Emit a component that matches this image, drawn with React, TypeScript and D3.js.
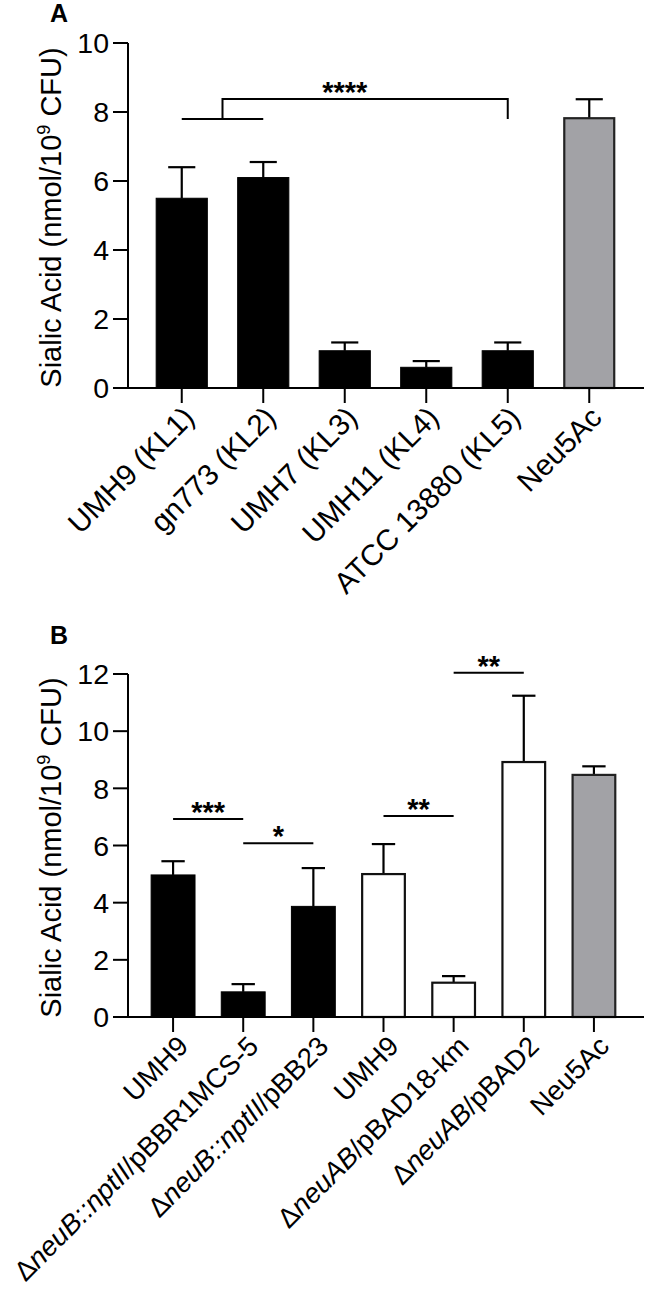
import * as d3 from "d3";

// Panel A: capsule types
const strainsA = ["UMH9 (KL1)", "gn773 (KL2)", "UMH7 (KL3)", "UMH11 (KL4)", "ATCC 13880 (KL5)", "Neu5Ac"];
const meansA = [5.5, 6.1, 1.08, 0.6, 1.08, 7.82];
const sdA = [0.9, 0.45, 0.24, 0.18, 0.24, 0.55];
const kindA = ["strain", "strain", "strain", "strain", "strain", "standard"];
const ticksA = [0, 2, 4, 6, 8, 10];

// Panel B: mutants and complements (text between _ is italic)
const strainsB = [
  "UMH9",
  "Δ_neuB::nptII_/pBBR1MCS-5",
  "Δ_neuB::nptII_/pBB23",
  "UMH9",
  "Δ_neuAB_/pBAD18-km",
  "Δ_neuAB_/pBAD2",
  "Neu5Ac",
];
const meansB = [4.97, 0.88, 3.87, 5.0, 1.2, 8.92, 8.47];
const sdB = [0.48, 0.27, 1.34, 1.05, 0.23, 2.32, 0.3];
const kindB = ["strain", "strain", "strain", "open", "open", "open", "standard"];
const ticksB = [0, 2, 4, 6, 8, 10, 12];
const sigB = [
  { from: 0, to: 1, y: 6.93, label: "***" },
  { from: 1, to: 2, y: 6.08, label: "*" },
  { from: 3, to: 4, y: 7.03, label: "**" },
  { from: 4, to: 5, y: 12.04, label: "**" },
];

const FONT = "'Liberation Sans', Arial, Helvetica, sans-serif";
const fills: Record<string, string> = { strain: "#000", open: "#fff", standard: "#a2a2a6" };
const strokes: Record<string, string> = { strain: "#000", open: "#111", standard: "#222" };

function parseLabel(s: string) {
  return s.split("_").map((t, i) => ({ t, italic: i % 2 === 1 }));
}

function Panel({
  letter, letterY, top, bottom, maxY, ticks, cats, means, sds, kinds, xStart, xEnd, labelSize, labelDx, children,
}: any) {
  const y = d3.scaleLinear().domain([0, maxY]).range([bottom, top]);
  const x = d3.scaleBand<number>().domain(d3.range(cats.length)).range([xStart, xEnd])
    .paddingInner(0.36).paddingOuter(0.18);
  const yAxisX = 128;
  const cx = (i: number) => (x(i) as number) + x.bandwidth() / 2;
  const cap = x.bandwidth() * 0.26;
  return (
    <g>
      <text x={50} y={letterY} fontSize={25} fontWeight="bold" fontFamily={FONT}>{letter}</text>
      <text transform={`translate(61,${(top + bottom) / 2 + 2}) rotate(-90)`} textAnchor="middle"
        fontSize={29} fontFamily={FONT}>
        Sialic Acid (nmol/10<tspan fontSize={18} dy={-11}>9</tspan><tspan dy={11}> CFU)</tspan>
      </text>
      {/* bars + error bars */}
      {means.map((m: number, i: number) => {
        const k = kinds[i];
        const sw = k === "strain" ? 1 : 2.2;
        return (
          <g key={i}>
            <line x1={cx(i)} x2={cx(i)} y1={y(m)} y2={y(m + sds[i])} stroke="#000" strokeWidth={2.2} />
            <line x1={cx(i) - cap} x2={cx(i) + cap} y1={y(m + sds[i])} y2={y(m + sds[i])} stroke="#000" strokeWidth={2.2} />
            <rect x={(x(i) as number) + sw / 2} y={y(m)} width={x.bandwidth() - sw} height={bottom - y(m)}
              fill={fills[k]} stroke={strokes[k]} strokeWidth={sw} />
          </g>
        );
      })}
      {/* y axis */}
      <line x1={yAxisX} x2={yAxisX} y1={y(maxY)} y2={bottom} stroke="#000" strokeWidth={2} />
      {ticks.map((t: number) => (
        <g key={t}>
          <line x1={113} x2={yAxisX} y1={y(t)} y2={y(t)} stroke="#000" strokeWidth={2} />
          <text x={109} y={y(t)} dy="0.36em" textAnchor="end" fontSize={28.5} fontFamily={FONT}>{t}</text>
        </g>
      ))}
      {/* x axis */}
      <line x1={113} x2={644} y1={bottom} y2={bottom} stroke="#000" strokeWidth={2} />
      {cats.map((c: string, i: number) => (
        <g key={i}>
          <line x1={cx(i)} x2={cx(i)} y1={bottom} y2={bottom + 15} stroke="#000" strokeWidth={2} />
          <text transform={`translate(${cx(i) + labelDx},${bottom + 24}) rotate(-45)`} dy="0.35em" textAnchor="end"
            fontSize={labelSize} fontFamily={FONT}>
            {parseLabel(c).map((p, j) => (
              <tspan key={j} fontStyle={p.italic ? "italic" : "normal"}>{p.t}</tspan>
            ))}
          </text>
        </g>
      ))}
      {children && children({ x: cx, y })}
    </g>
  );
}

export default function App() {
  return (
    <svg width={646} height={1304} style={{ position: "absolute", left: 0, top: 0, background: "#fff" }}>
      <Panel letter="A" letterY={22} top={43} bottom={388} maxY={10} ticks={ticksA} cats={strainsA} means={meansA}
        sds={sdA} kinds={kindA} xStart={141} xEnd={630} labelSize={29.5} labelDx={7}>
        {({ x, y }: any) => {
          const yLow = y(7.8), yHigh = y(8.38);
          const mid = (x(0) + x(1)) / 2;
          return (
            <g stroke="#000" strokeWidth={2} fill="none">
              <line x1={x(0)} x2={x(1)} y1={yLow} y2={yLow} />
              <polyline points={`${mid},${yLow} ${mid},${yHigh} ${x(4)},${yHigh} ${x(4)},${yLow}`} />
              <text x={x(2)} y={yHigh + 3} textAnchor="middle" fontSize={29} fontWeight="bold"
                fontFamily={FONT} fill="#000" stroke="none">****</text>
            </g>
          );
        }}
      </Panel>
      <Panel letter="B" letterY={644} top={674} bottom={1017} maxY={12} ticks={ticksB} cats={strainsB} means={meansB}
        sds={sdB} kinds={kindB} xStart={138} xEnd={629} labelSize={27.5} labelDx={10}>
        {({ x, y }: any) => (
          <g>
            {sigB.map((s, i) => (
              <g key={i}>
                <line x1={x(s.from)} x2={x(s.to)} y1={y(s.y)} y2={y(s.y)} stroke="#000" strokeWidth={2} />
                <text x={(x(s.from) + x(s.to)) / 2} y={y(s.y) + 3} textAnchor="middle" fontSize={29}
                  fontWeight="bold" fontFamily={FONT}>{s.label}</text>
              </g>
            ))}
          </g>
        )}
      </Panel>
    </svg>
  );
}
